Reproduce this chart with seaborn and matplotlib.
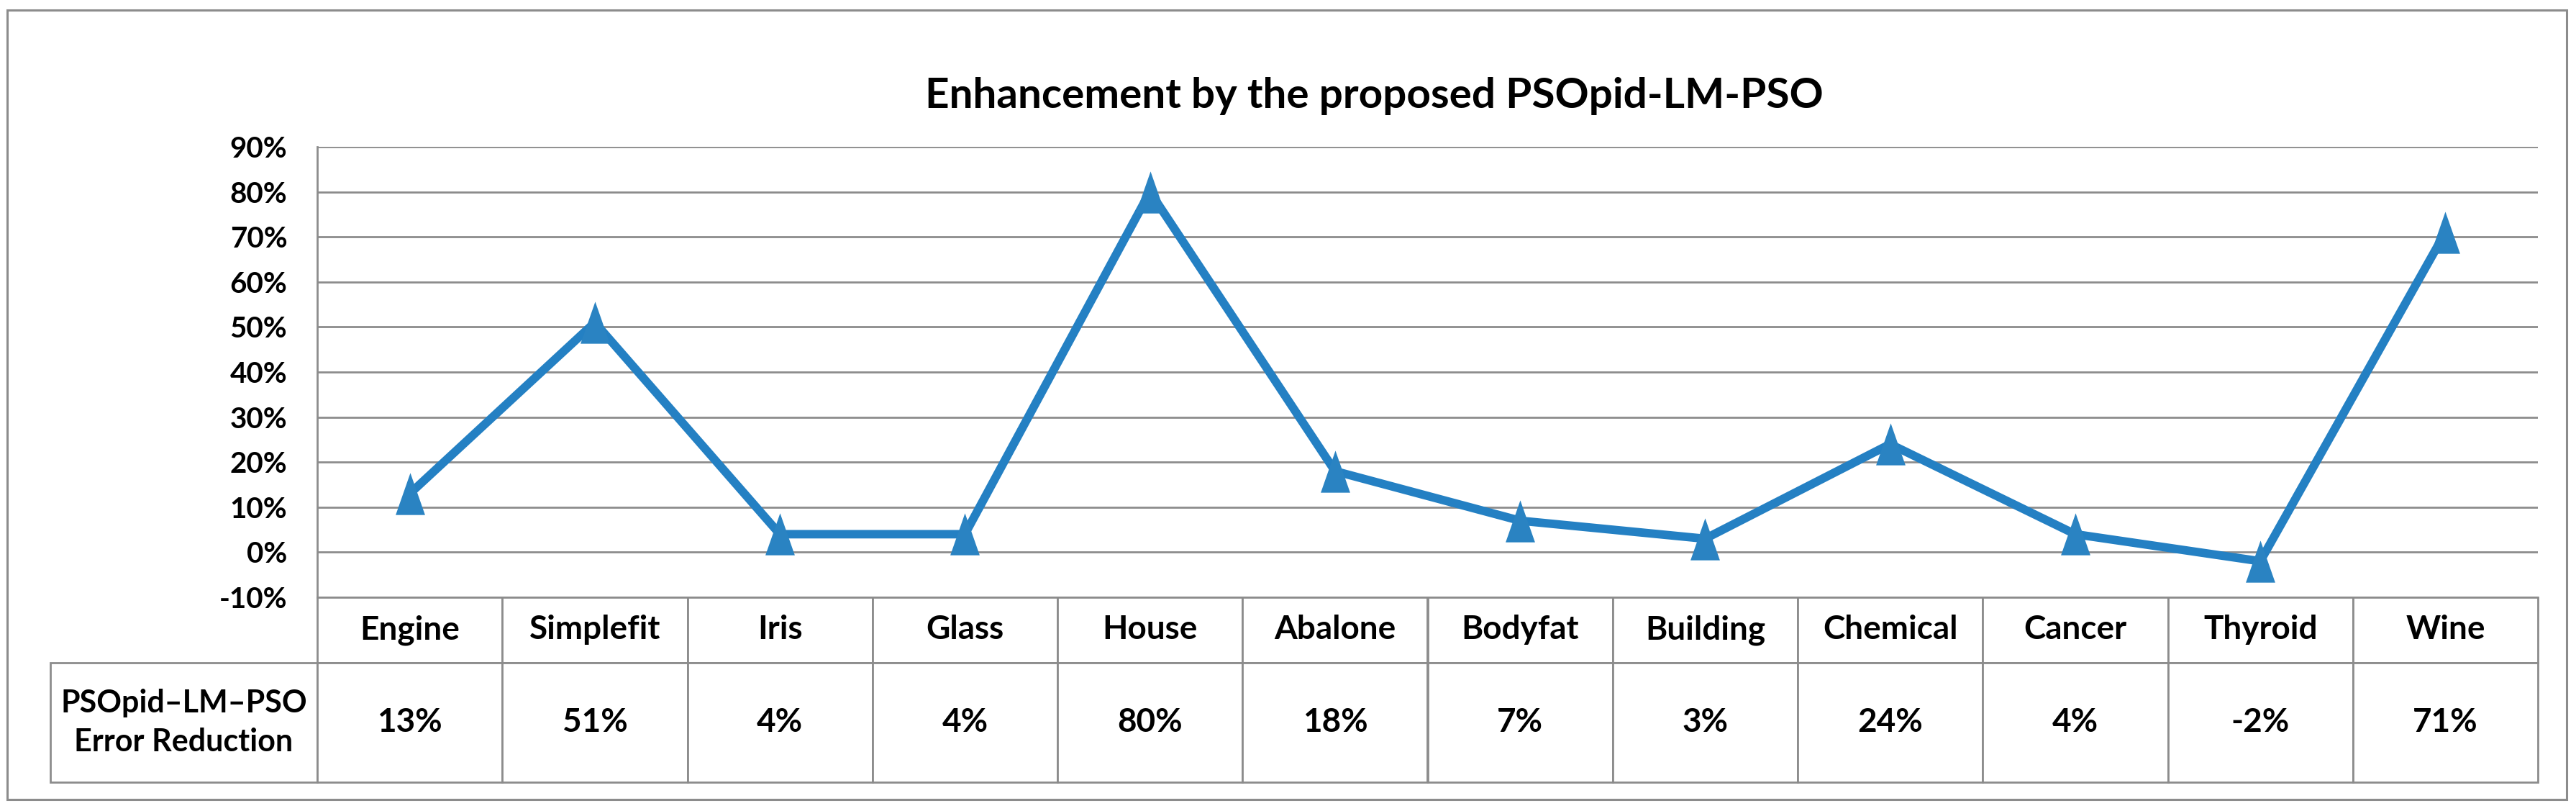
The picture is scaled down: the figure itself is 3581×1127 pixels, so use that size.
import matplotlib
matplotlib.use('Agg')
import matplotlib.pyplot as plt
import seaborn as sns
from matplotlib.patches import Rectangle

# data
datasets = ['Engine', 'Simplefit', 'Iris', 'Glass', 'House', 'Abalone',
            'Bodyfat', 'Building', 'Chemical', 'Cancer', 'Thyroid', 'Wine']
reduction = [13, 51, 4, 4, 80, 18, 7, 3, 24, 4, -2, 71]
y_ticks = [-10, 0, 10, 20, 30, 40, 50, 60, 70, 80, 90]
row_label = 'PSOpid\u2013LM\u2013PSO\nError Reduction'
title = 'Enhancement by the proposed PSOpid-LM-PSO'

sns.set_theme(style='white')
plt.rcParams['font.family'] = ['Lato', 'DejaVu Sans']
plt.rcParams['text.color'] = 'black'
plt.rcParams['ytick.color'] = 'black'

W, H = 3581, 1127
fig = plt.figure(figsize=(W / 100, H / 100), dpi=100)

# plot area in pixels
left, right, top, bottom = 441, 3528, 204, 830
ax = fig.add_axes([left / W, 1 - bottom / H, (right - left) / W, (bottom - top) / H])

line_col = '#2480C3'
grid_col = '#8C8C8C'

sns.lineplot(x=datasets, y=reduction, sort=False, ax=ax, color=line_col, lw=8.5,
             marker=[(-0.7, -1), (0.7, -1), (0, 1)], markersize=42,
             markeredgewidth=0, markerfacecolor='#2A83C2', zorder=3)

ax.set_xlim(-0.5, len(datasets) - 0.5)
ax.set_ylim(-10, 90)
ax.set_yticks(y_ticks)
ax.set_yticklabels([f'{t}%' for t in y_ticks], fontsize=29, fontweight='bold')
ax.tick_params(axis='y', length=0, pad=30)
ax.set_xticks([])
ax.set_xlabel('')
ax.set_ylabel('')
for t in y_ticks:
    ax.axhline(t, color=grid_col, lw=2, zorder=1)
for s in ['top', 'right', 'bottom']:
    ax.spines[s].set_visible(False)
ax.spines['left'].set_color(grid_col)
ax.spines['left'].set_linewidth(2)

# data table under the axis
plot_w = right - left
plot_h = bottom - top
tbl_left = 70
hdr_h, val_h = 91, 166
cells = [[''] + datasets, [row_label] + [f'{v}%' for v in reduction]]
tbl = ax.table(cellText=cells, cellLoc='center',
               bbox=[(tbl_left - left) / plot_w, -(hdr_h + val_h) / plot_h,
                     (right - tbl_left) / plot_w, (hdr_h + val_h) / plot_h])
tbl.auto_set_font_size(False)
tbl.set_fontsize(33)
col_w = [left - tbl_left] + [plot_w / len(datasets)] * len(datasets)
for (r, c), cell in tbl.get_celld().items():
    cell.set_width(col_w[c])
    cell.set_height(hdr_h if r == 0 else val_h)
    cell.set_edgecolor(grid_col)
    cell.set_linewidth(2)
    cell.get_text().set_fontweight('bold')
    cell.get_text().set_linespacing(1.4)
tbl[0, 0].set_visible(False)
tbl[1, 0].get_text().set_fontsize(31)

fig.text(1910 / W, 1 - 134 / H, title, ha='center', va='center',
         fontsize=42, fontweight='bold')

# outer chart frame
fig.patches.append(Rectangle((10 / W, 1 - 1111 / H), (3568 - 10) / W, (1111 - 14) / H,
                             transform=fig.transFigure, fill=False,
                             edgecolor=grid_col, lw=2.2))

fig.savefig('out.png', dpi=100)
